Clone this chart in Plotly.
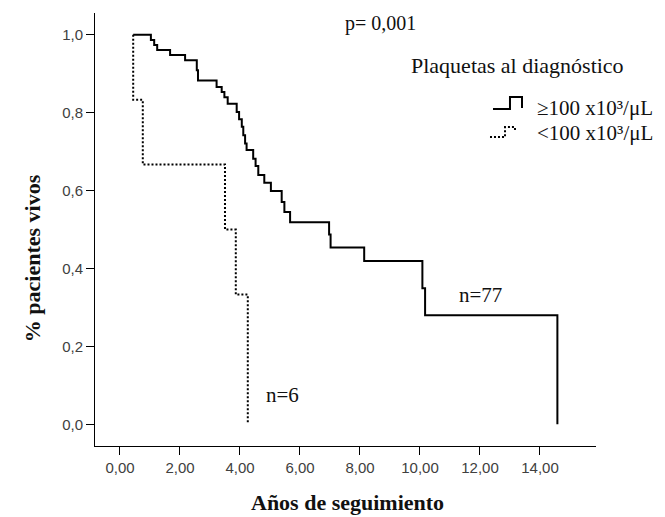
import plotly.graph_objects as go

# Kaplan-Meier steps, platelets >= 100 x10^3/uL (n=77)
high_t = [0.44, 1.03, 1.14, 1.24, 1.67, 2.17, 2.56, 2.60, 3.22, 3.39, 3.48, 3.59,
          3.89, 3.97, 4.06, 4.11, 4.17, 4.22, 4.44, 4.52, 4.61, 4.81, 5.03, 5.39,
          5.48, 5.67, 6.97, 7.02, 8.14, 10.08, 10.17, 14.58]
high_s = [1.0, 0.987, 0.974, 0.961, 0.948, 0.935, 0.909, 0.883, 0.866, 0.853, 0.840, 0.823,
          0.802, 0.783, 0.764, 0.742, 0.721, 0.704, 0.682, 0.663, 0.640, 0.620, 0.599, 0.571,
          0.545, 0.519, 0.487, 0.454, 0.419, 0.349, 0.280, 0.0]

# platelets < 100 x10^3/uL (n=6)
low_t = [0.44, 0.44, 0.76, 3.50, 3.86, 4.26]
low_s = [1.0, 0.833, 0.667, 0.5, 0.333, 0.0]

x_ticks = [0, 2, 4, 6, 8, 10, 12, 14]
x_labels = ["0,00", "2,00", "4,00", "6,00", "8,00", "10,00", "12,00", "14,00"]
y_ticks = [0, 0.2, 0.4, 0.6, 0.8, 1.0]
y_labels = ["0,0", "0,2", "0,4", "0,6", "0,8", "1,0"]

serif = "Liberation Serif"
sans = "Liberation Sans"

fig = go.Figure()
fig.add_trace(go.Scatter(x=high_t, y=high_s, mode="lines", line_shape="hv",
                         line=dict(color="black", width=2), name="≥100 x10³/μL",
                         showlegend=False, hoverinfo="skip"))
fig.add_trace(go.Scatter(x=low_t, y=low_s, mode="lines", line_shape="hv",
                         line=dict(color="black", width=2, dash="2px,2px"), name="<100 x10³/μL",
                         showlegend=False, hoverinfo="skip"))

axis_common = dict(showgrid=False, zeroline=False, showline=True, linecolor="black",
                   linewidth=1, ticks="outside", ticklen=8, tickcolor="black",
                   tickfont=dict(family=sans, size=15, color="#404040"))
fig.update_xaxes(range=[-0.833, 15.867], tickvals=x_ticks, ticktext=x_labels, **axis_common)
fig.update_yaxes(range=[-0.0557, 1.056], tickvals=y_ticks, ticktext=y_labels, **axis_common)

ann = []
ann.append(dict(text="<b>Años de seguimiento</b>", xref="paper", yref="paper", x=0.504, y=-0.1294,
                xanchor="center", yanchor="middle", showarrow=False, font=dict(family=serif, size=22, color="#111")))
ann.append(dict(text="<b>% pacientes vivos</b>", xref="paper", yref="paper", x=-0.1257, y=0.4338,
                xanchor="center", yanchor="middle", textangle=-90, showarrow=False,
                font=dict(family=serif, size=22, color="#111")))
ann.append(dict(text="p= 0,001", xref="paper", yref="paper", x=0.495, y=0.9769,
                xanchor="left", yanchor="middle", showarrow=False, font=dict(family=serif, size=20, color="#111")))
ann.append(dict(text="Plaquetas al diagnóstico", xref="paper", yref="paper", x=0.6267, y=0.8798,
                xanchor="left", yanchor="middle", showarrow=False, font=dict(family=serif, size=22, color="#111")))
ann.append(dict(text="≥100 x10³/μL", xref="paper", yref="paper", x=0.8782, y=0.7805,
                xanchor="left", yanchor="middle", showarrow=False, font=dict(family=serif, size=21, color="#111")))
ann.append(dict(text="<100 x10³/μL", xref="paper", yref="paper", x=0.8782, y=0.7227,
                xanchor="left", yanchor="middle", showarrow=False, font=dict(family=serif, size=21, color="#111")))
ann.append(dict(text="n=77", x=11.22, y=0.331, xanchor="left", yanchor="middle", showarrow=False,
                font=dict(family=serif, size=21, color="#111")))
ann.append(dict(text="n=6", x=4.80, y=0.0745, xanchor="left", yanchor="middle", showarrow=False,
                font=dict(family=serif, size=21, color="#111")))

shapes = [
    dict(type="path", xref="paper", yref="paper",
         path="M0.7944,0.7781 L0.8283,0.7781 L0.8283,0.8059 L0.8523,0.8059 L0.8523,0.7804",
         line=dict(color="black", width=2)),
    dict(type="path", xref="paper", yref="paper",
         path="M0.7884,0.7134 L0.8184,0.7134 L0.8184,0.7366 L0.8383,0.7366 L0.8383,0.725",
         line=dict(color="black", width=2, dash="2px,2px")),
]

fig.update_layout(width=665, height=517, margin=dict(l=95, r=69, t=13, b=71),
                  paper_bgcolor="white", plot_bgcolor="white",
                  annotations=ann, shapes=shapes, showlegend=False)
fig.write_html("out.html")
